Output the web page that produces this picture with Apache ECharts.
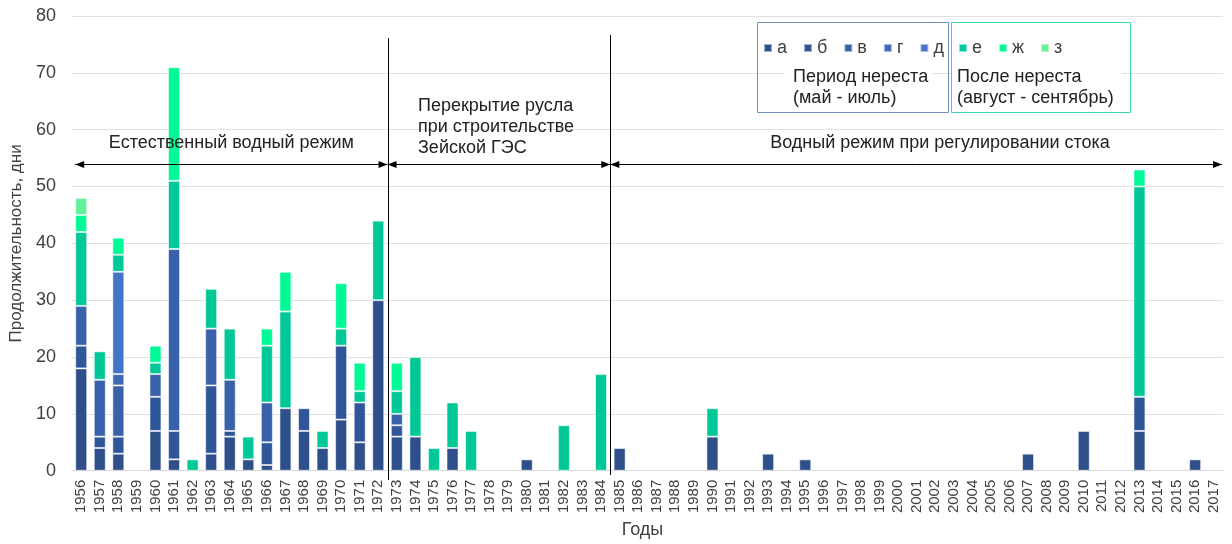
<!DOCTYPE html>
<html>
<head>
<meta charset="utf-8">
<script src="https://cdn.jsdelivr.net/npm/echarts@6/dist/echarts.min.js"></script>
<style>
  html, body { margin: 0; padding: 0; background: #fff; }
  #chart { width: 1232px; height: 544px; }
</style>
</head>
<body>
<div id="chart"></div>
<script>
// Years on the category axis
const years = [];
for (let y = 1956; y <= 2017; y++) years.push(String(y));

// Duration (days) of each water-level period type, per year
const seriesA = [18,4,3,0,7,2,0,3,6,2, 1,11,7,4,9,5,30,6,6,0, 4,0,0,0,2,0,0,0,0,4, 0,0,0,0,6,0,0,3,0,2, 0,0,0,0,0,0,0,0,0,0, 0,3,0,0,7,0,0,7,0,0, 2,0];
const seriesB = [4,2,3,0,6,5,0,12,1,0, 4,0,4,0,13,7,0,2,0,0, 0,0,0,0,0,0,0,0,0,0, 0,0,0,0,0,0,0,0,0,0, 0,0,0,0,0,0,0,0,0,0, 0,0,0,0,0,0,0,6,0,0, 0,0];
const seriesV = [7,10,9,0,4,32,0,10,9,0, 7,0,0,0,0,0,0,2,0,0, 0,0,0,0,0,0,0,0,0,0, 0,0,0,0,0,0,0,0,0,0, 0,0,0,0,0,0,0,0,0,0, 0,0,0,0,0,0,0,0,0,0, 0,0];
const seriesG = [0,0,2,0,0,0,0,0,0,0, 0,0,0,0,0,0,0,0,0,0, 0,0,0,0,0,0,0,0,0,0, 0,0,0,0,0,0,0,0,0,0, 0,0,0,0,0,0,0,0,0,0, 0,0,0,0,0,0,0,0,0,0, 0,0];
const seriesD = [0,0,18,0,0,0,0,0,0,0, 0,0,0,0,0,0,0,0,0,0, 0,0,0,0,0,0,0,0,0,0, 0,0,0,0,0,0,0,0,0,0, 0,0,0,0,0,0,0,0,0,0, 0,0,0,0,0,0,0,0,0,0, 0,0];
const seriesE = [13,5,3,0,2,12,2,7,9,4, 10,17,0,3,3,2,14,4,14,4, 8,7,0,0,0,0,8,0,17,0, 0,0,0,0,5,0,0,0,0,0, 0,0,0,0,0,0,0,0,0,0, 0,0,0,0,0,0,0,37,0,0, 0,0];
const seriesZh = [3,0,3,0,3,20,0,0,0,0, 3,7,0,0,8,5,0,5,0,0, 0,0,0,0,0,0,0,0,0,0, 0,0,0,0,0,0,0,0,0,0, 0,0,0,0,0,0,0,0,0,0, 0,0,0,0,0,0,0,3,0,0, 0,0];
const seriesZ = [3,0,0,0,0,0,0,0,0,0, 0,0,0,0,0,0,0,0,0,0, 0,0,0,0,0,0,0,0,0,0, 0,0,0,0,0,0,0,0,0,0, 0,0,0,0,0,0,0,0,0,0, 0,0,0,0,0,0,0,0,0,0, 0,0];

const seriesNames = ['а', 'б', 'в', 'г', 'д', 'е', 'ж', 'з'];
const seriesData = [seriesA, seriesB, seriesV, seriesG, seriesD, seriesE, seriesZh, seriesZ];
const seriesColors = ['#2E4F8A', '#30569A', '#3961A9', '#3E69B9', '#4574C6', '#00C896', '#00FA96', '#63F29B'];

const FONT = 'Liberation Sans, Arial, sans-serif';

const chart = echarts.init(document.getElementById('chart'), null, { renderer: 'canvas' });

const legendText = { fontSize: 18, color: '#404040', fontFamily: FONT };

const option = {
  backgroundColor: '#ffffff',
  animation: false,
  textStyle: { fontFamily: FONT },
  grid: { left: 70, right: 9, top: 16, bottom: 70 },
  legend: [
    {
      data: seriesNames.slice(0, 5),
      left: 758, top: 34,
      itemWidth: 8, itemHeight: 8, itemGap: 16,
      icon: 'rect',
      textStyle: legendText,
      z: 10
    },
    {
      data: seriesNames.slice(5),
      left: 953, top: 34,
      itemWidth: 8, itemHeight: 8, itemGap: 16,
      icon: 'rect',
      textStyle: legendText,
      z: 10
    }
  ],
  xAxis: {
    type: 'category',
    data: years,
    name: 'Годы',
    nameLocation: 'middle',
    nameGap: 50,
    nameTextStyle: { fontSize: 18, color: '#404040', fontFamily: FONT, padding: [0, 10, 0, 0] },
    axisLine: { lineStyle: { color: '#d9d9d9', width: 1 } },
    axisTick: { show: false },
    axisLabel: { rotate: 90, fontSize: 15, color: '#404040', margin: 9, interval: 0, fontFamily: FONT }
  },
  yAxis: {
    type: 'value',
    min: 0, max: 80, interval: 10,
    name: 'Продолжительность, дни',
    nameLocation: 'middle',
    nameGap: 45,
    nameTextStyle: { fontSize: 17, color: '#404040', fontFamily: FONT },
    axisLine: { show: false },
    axisTick: { show: false },
    axisLabel: { fontSize: 18, color: '#404040', margin: 16, fontFamily: FONT },
    splitLine: { lineStyle: { color: '#e0e0e0', width: 1 } }
  },
  series: seriesNames.map((name, i) => ({
    name: name,
    type: 'bar',
    stack: 'total',
    barWidth: 12,
    data: seriesData[i].map(v => (v ? v : null)),
    itemStyle: {
      color: seriesColors[i],
      borderColor: 'rgba(255,255,255,0.55)',
      borderWidth: 1
    },
    emphasis: { disabled: true }
  }))
};

chart.setOption(option);

// Annotation layer: period separators, double arrows and captions
function px(cat) { return chart.convertToPixel({ xAxisIndex: 0 }, cat); }
function py(val) { return chart.convertToPixel({ yAxisIndex: 0 }, val); }

const band = px('1957') - px('1956');
const split1 = px('1972') + band / 2;
const split2 = px('1984') + band / 2;
const arrowY = py(54);
const leftEnd = px('1956') - 6;
const rightEnd = px('2017') + band / 2 - 1;

const black = '#000000';
const graphics = [];

function vline(x, y1, y2) {
  graphics.push({ type: 'line', shape: { x1: x, y1: y1, x2: x, y2: y2 }, style: { stroke: black, lineWidth: 1 }, z: 20, silent: true });
}
function hline(x1, x2, y) {
  graphics.push({ type: 'line', shape: { x1: x1, y1: y, x2: x2, y2: y }, style: { stroke: black, lineWidth: 1 }, z: 20, silent: true });
}
function head(x, y, dir) {
  // dir = 1 points right, dir = -1 points left
  const L = 9, W = 3.5;
  graphics.push({
    type: 'polygon',
    shape: { points: [[x, y], [x - dir * L, y - W], [x - dir * L, y + W]] },
    style: { fill: black },
    z: 21, silent: true
  });
}
function doubleArrow(x1, x2, y) {
  hline(x1, x2, y);
  head(x1, y, -1);
  head(x2, y, 1);
}
function label(text, x, y, align) {
  graphics.push({
    type: 'text',
    x: x, y: y,
    style: { text: text, fill: '#222', font: '18px ' + FONT, align: align || 'left', verticalAlign: 'top', lineHeight: 21 },
    z: 22, silent: true
  });
}

vline(Math.round(split1) + 0.5, 38, 480);
vline(Math.round(split2) + 0.5, 35, 475);

const ay = Math.round(arrowY) + 0.5;
doubleArrow(leftEnd, split1, ay);
doubleArrow(split1, split2, ay);
doubleArrow(split2, rightEnd, ay);

label('Естественный водный режим', (leftEnd + split1) / 2, 133, 'center');
label('Перекрытие русла\nпри строительстве\nЗейской ГЭС', 418, 96, 'left');
label('Водный режим при регулировании стока', 940, 133, 'center');

// Legend frames (unfilled) and captions on white text boxes
graphics.push({
  type: 'rect',
  shape: { x: 757.5, y: 22.5, width: 191, height: 90 },
  style: { fill: null, stroke: '#6F8FC0', lineWidth: 1 },
  z: 5, silent: true
});
graphics.push({
  type: 'rect',
  shape: { x: 951.5, y: 22.5, width: 179, height: 90 },
  style: { fill: null, stroke: '#3ED9B4', lineWidth: 1 },
  z: 5, silent: true
});
graphics.push({
  type: 'text', x: 785, y: 65,
  style: {
    text: 'Период нереста\n(май - июль)', fill: '#222', font: '18px ' + FONT, lineHeight: 21, verticalAlign: 'top',
    backgroundColor: '#ffffff', padding: [2, 4, 2, 8]
  },
  z: 6, silent: true
});
graphics.push({
  type: 'text', x: 953, y: 65,
  style: {
    text: 'После нереста\n(август - сентябрь)', fill: '#222', font: '18px ' + FONT, lineHeight: 21, verticalAlign: 'top',
    backgroundColor: '#ffffff', padding: [2, 8, 2, 4]
  },
  z: 6, silent: true
});

chart.setOption({ graphic: { elements: graphics } });
</script>
</body>
</html>
